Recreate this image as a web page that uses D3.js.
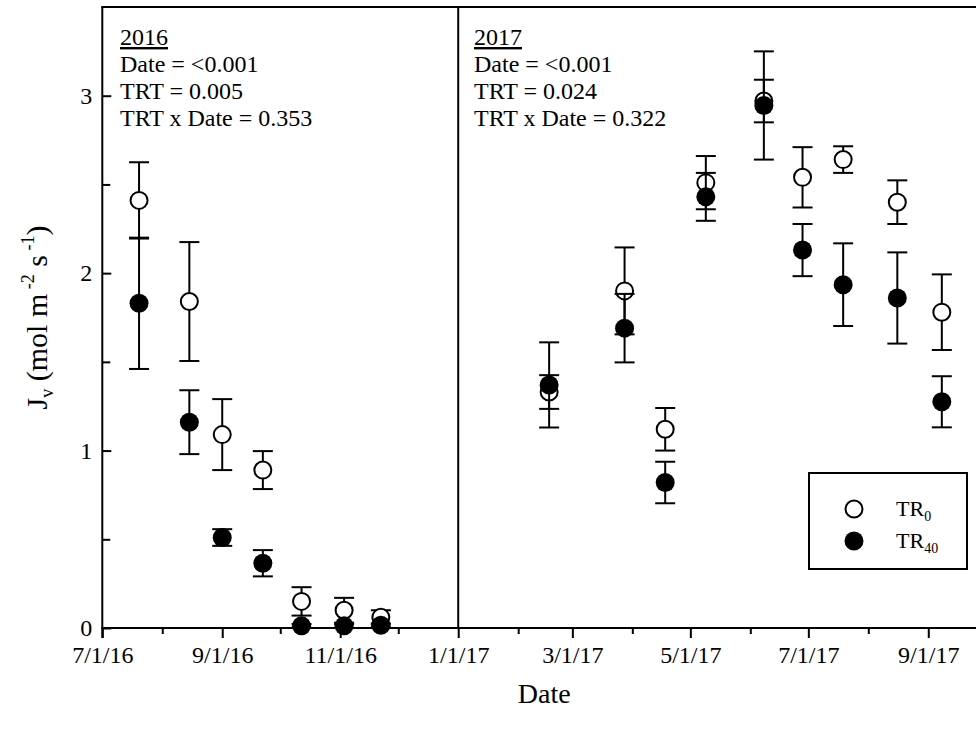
<!DOCTYPE html>
<html><head><meta charset="utf-8">
<script src="https://cdn.jsdelivr.net/npm/d3@7"></script>
<style>
html,body{margin:0;padding:0;background:#fff;}
svg{display:block;font-family:"Liberation Serif","Times New Roman",serif;}
</style></head>
<body>
<svg id="chart" width="976" height="729"></svg>
<script>
// ---- data ----
const dates2016 = ["2016-07-20","2016-08-15","2016-09-01","2016-09-22","2016-10-12","2016-11-03","2016-11-22"];
const tr0_2016 = [2.41, 1.84, 1.09, 0.89, 0.15, 0.10, 0.06];
const tr0_2016_err = [0.215, 0.335, 0.20, 0.107, 0.08, 0.07, 0.04];
const tr40_2016 = [1.83, 1.16, 0.51, 0.365, 0.012, 0.012, 0.015];
const tr40_2016_err = [0.37, 0.18, 0.047, 0.074, 0.01, 0.01, 0.01];

const dates2017 = ["2017-02-17","2017-03-28","2017-04-18","2017-05-09","2017-06-08","2017-06-28","2017-07-19","2017-08-16","2017-09-08"];
const tr0_2017 = [1.33, 1.90, 1.12, 2.51, 2.97, 2.54, 2.64, 2.40, 1.78];
const tr0_2017_err = [0.095, 0.245, 0.12, 0.15, 0.12, 0.17, 0.075, 0.123, 0.213];
const tr40_2017 = [1.37, 1.69, 0.82, 2.43, 2.945, 2.13, 1.935, 1.86, 1.275];
const tr40_2017_err = [0.24, 0.193, 0.117, 0.135, 0.305, 0.147, 0.233, 0.257, 0.144];

const yTicksMajor = [0, 1, 2, 3];
const yTicksMinor = [0.5, 1.5, 2.5];
const xDomain = ["2016-07-01", "2017-10-01"];
const divider = "2017-01-01";

const stats2016 = ["2016", "Date = <0.001", "TRT = 0.005", "TRT x Date = 0.353"];
const stats2017 = ["2017", "Date = <0.001", "TRT = 0.024", "TRT x Date = 0.322"];

// ---- helpers ----
const parse = s => { const [y,m,d] = s.split("-").map(Number); return new Date(y, m-1, d); };

const svg = d3.select("#chart");
const L = 102.3, R = 986.3, T = 7, B = 628;

const x = d3.scaleTime().domain(xDomain.map(parse)).range([L, R]);
const y = d3.scaleLinear().domain([0, 3.5]).range([B, T]);

const fmt = d => `${d.getMonth()+1}/${d.getDate()}/${String(d.getFullYear()).slice(2)}`;

// major / minor x ticks
const majorX = d3.timeMonth.every(2).range(parse("2016-07-01"), parse("2017-09-02"));
const minorX = d3.timeMonth.range(parse("2016-08-01"), parse("2017-10-01")).filter(d => d.getMonth() % 2 === 1);

const gx = svg.append("g").attr("transform", `translate(0,${B})`)
  .call(d3.axisBottom(x).tickValues(majorX).tickFormat(fmt).tickSize(10).tickPadding(8));
gx.select(".domain").remove();
gx.selectAll("line").attr("stroke", "#000").attr("stroke-width", 2);
gx.selectAll("text").attr("font-size", 24).attr("fill", "#000").attr("font-family", "Liberation Serif");

const gxm = svg.append("g").attr("transform", `translate(0,${B})`)
  .call(d3.axisBottom(x).tickValues(minorX).tickFormat("").tickSize(6));
gxm.select(".domain").remove();
gxm.selectAll("line").attr("stroke", "#000").attr("stroke-width", 2);

// y ticks (inward)
const gy = svg.append("g").attr("transform", `translate(${L},0)`)
  .call(d3.axisLeft(y).tickValues(yTicksMajor).tickFormat(d3.format("d")).tickSize(-9).tickPadding(10));
gy.select(".domain").remove();
gy.selectAll("line").attr("stroke", "#000").attr("stroke-width", 2);
gy.selectAll("text").attr("font-size", 24).attr("fill", "#000").attr("font-family", "Liberation Serif");

const gym = svg.append("g").attr("transform", `translate(${L},0)`)
  .call(d3.axisLeft(y).tickValues(yTicksMinor).tickFormat("").tickSize(-8));
gym.select(".domain").remove();
gym.selectAll("line").attr("stroke", "#000").attr("stroke-width", 2);

// frame
svg.append("line").attr("x1", L).attr("x2", L).attr("y1", T).attr("y2", B + 10).attr("stroke", "#000").attr("stroke-width", 2);
svg.append("line").attr("x1", L - 1).attr("x2", 976).attr("y1", T).attr("y2", T).attr("stroke", "#000").attr("stroke-width", 2);
svg.append("line").attr("x1", L - 1).attr("x2", 976).attr("y1", B).attr("y2", B).attr("stroke", "#000").attr("stroke-width", 2);
svg.append("line").attr("x1", x(parse(divider))).attr("x2", x(parse(divider))).attr("y1", T).attr("y2", B)
  .attr("stroke", "#000").attr("stroke-width", 2);

// ---- series ----
function build(dates, vals, errs) {
  return dates.map((d, i) => ({ date: parse(d), v: vals[i], e: errs[i] }));
}
const open = build(dates2016, tr0_2016, tr0_2016_err).concat(build(dates2017, tr0_2017, tr0_2017_err));
const filled = build(dates2016, tr40_2016, tr40_2016_err).concat(build(dates2017, tr40_2017, tr40_2017_err));

const capW = 10, rad = 8.5;
function errorBars(data) {
  const g = svg.append("g").attr("stroke", "#000").attr("stroke-width", 2);
  data.forEach(d => {
    const cx = x(d.date), y1 = y(d.v + d.e), y0 = y(Math.max(0, d.v - d.e));
    g.append("line").attr("x1", cx).attr("x2", cx).attr("y1", y1).attr("y2", y0);
    g.append("line").attr("x1", cx - capW).attr("x2", cx + capW).attr("y1", y1).attr("y2", y1);
    if (d.v - d.e > 0) g.append("line").attr("x1", cx - capW).attr("x2", cx + capW).attr("y1", y0).attr("y2", y0);
  });
}
errorBars(open);
svg.append("g").selectAll("circle").data(open).join("circle")
  .attr("cx", d => x(d.date)).attr("cy", d => y(d.v)).attr("r", rad)
  .attr("fill", "#fff").attr("stroke", "#000").attr("stroke-width", 2);
errorBars(filled);
svg.append("g").selectAll("circle").data(filled).join("circle")
  .attr("cx", d => x(d.date)).attr("cy", d => y(d.v)).attr("r", rad + 1)
  .attr("fill", "#000");

// ---- annotations ----
function stats(lines, x0) {
  const g = svg.append("g").attr("font-size", 24).attr("fill", "#000");
  const ys = [45, 72, 99, 126];
  lines.forEach((t, i) => {
    const tx = g.append("text").attr("x", x0).attr("y", ys[i]).text(t);
    if (i === 0) tx.attr("text-decoration", "underline");
  });
}
stats(stats2016, 120);
stats(stats2017, 474);

// ---- legend ----
const lg = svg.append("g");
lg.append("rect").attr("x", 809).attr("y", 473).attr("width", 158).attr("height", 96)
  .attr("fill", "#fff").attr("stroke", "#000").attr("stroke-width", 2);
lg.append("circle").attr("cx", 854).attr("cy", 509).attr("r", rad).attr("fill", "#fff").attr("stroke", "#000").attr("stroke-width", 2);
lg.append("circle").attr("cx", 854).attr("cy", 541).attr("r", rad + 1).attr("fill", "#000");
const t0 = lg.append("text").attr("x", 896).attr("y", 516).attr("font-size", 22);
t0.append("tspan").text("TR");
t0.append("tspan").attr("font-size", 14).attr("dy", 5).text("0");
const t1 = lg.append("text").attr("x", 896).attr("y", 548).attr("font-size", 22);
t1.append("tspan").text("TR");
t1.append("tspan").attr("font-size", 14).attr("dy", 5).text("40");

// ---- axis titles ----
svg.append("text").attr("x", (L + R) / 2).attr("y", 703).attr("text-anchor", "middle")
  .attr("font-size", 28).text("Date");

const yl = svg.append("text").attr("transform", `translate(47,${(T + B) / 2}) rotate(-90)`)
  .attr("text-anchor", "middle").attr("font-size", 30);
yl.append("tspan").text("J");
yl.append("tspan").attr("font-size", 18).attr("dy", 6).text("v");
yl.append("tspan").attr("dy", -6).text(" (mol m");
yl.append("tspan").attr("font-size", 18).attr("dy", -13).text(" -2");
yl.append("tspan").attr("dy", 13).text(" s");
yl.append("tspan").attr("font-size", 18).attr("dy", -13).text(" -1");
yl.append("tspan").attr("dy", 13).text(")");
</script>
</body></html>
